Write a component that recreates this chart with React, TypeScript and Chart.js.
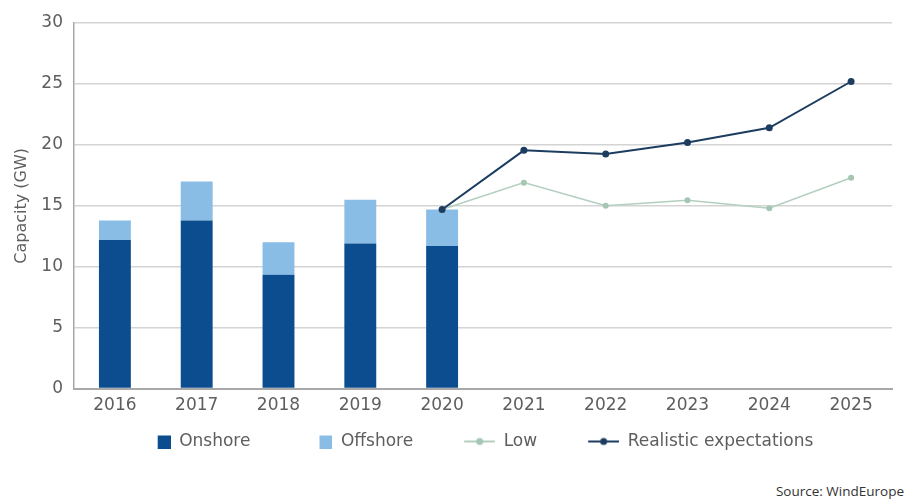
import React, { useEffect, useRef } from "react";
import { Chart, registerables } from "chart.js";

Chart.register(...registerables);

const categories = ["2016", "2017", "2018", "2019", "2020", "2021", "2022", "2023", "2024", "2025"];
const onshore = [12.2, 13.8, 9.35, 11.9, 11.7, null, null, null, null, null];
const offshore = [1.6, 3.2, 2.65, 3.6, 3.0, null, null, null, null, null];
const low = [null, null, null, null, 14.7, 16.9, 15.0, 15.45, 14.8, 17.3];
const realistic = [null, null, null, null, 14.7, 19.55, 19.25, 20.2, 21.4, 25.2];
const seriesNames = ["Onshore", "Offshore", "Low", "Realistic expectations"];

const C_ON = "#0b4d8e";
const C_OFF = "#8abde6";
const C_LOW = "#b3cfc0";
const C_LOW_PT = "#a5c6b3";
const C_REAL = "#1d3d60";
const FONT = "'DejaVu Sans', sans-serif";
const TXT = "#5e5e5e";
const ICON_W = 72;

function squareIcon(color: string) {
  const c = document.createElement("canvas");
  c.width = ICON_W;
  c.height = 14;
  const ctx = c.getContext("2d")!;
  ctx.fillStyle = color;
  ctx.fillRect(ICON_W - 13, 1, 13, 13);
  return c;
}

function lineIcon(color: string, dot: string) {
  const c = document.createElement("canvas");
  c.width = ICON_W;
  c.height = 10;
  const ctx = c.getContext("2d")!;
  ctx.strokeStyle = color;
  ctx.lineWidth = 2;
  ctx.beginPath();
  ctx.moveTo(ICON_W - 31, 5);
  ctx.lineTo(ICON_W, 5);
  ctx.stroke();
  ctx.fillStyle = dot;
  ctx.beginPath();
  ctx.arc(ICON_W - 15.5, 5, 3.5, 0, Math.PI * 2);
  ctx.fill();
  return c;
}

const legendTweak = {
  id: "legendTweak",
  afterInit(chart: any) {
    const lg = chart.legend;
    if (!lg) return;
    const orig = lg.fit;
    lg.fit = function () {
      orig.call(this);
      this.height = 37;
    };
  },
  afterLayout(chart: any) {
    const lg = chart.legend;
    if (!lg) return;
    lg.left += 10;
    lg.right += 10;
  },
};

export default function App() {
  const ref = useRef<HTMLCanvasElement | null>(null);

  useEffect(() => {
    if (!ref.current) return;
    const icons = [squareIcon(C_ON), squareIcon(C_OFF), lineIcon(C_LOW, C_LOW_PT), lineIcon(C_REAL, C_REAL)];
    const chart = new Chart(ref.current, {
      type: "bar",
      data: {
        labels: categories,
        datasets: [
          {
            type: "bar",
            label: seriesNames[0],
            data: onshore,
            backgroundColor: C_ON,
            stack: "bars",
            barPercentage: 0.39,
            categoryPercentage: 1,
            order: 2,
          },
          {
            type: "bar",
            label: seriesNames[1],
            data: offshore,
            backgroundColor: C_OFF,
            stack: "bars",
            barPercentage: 0.39,
            categoryPercentage: 1,
            order: 2,
          },
          {
            type: "line",
            label: seriesNames[2],
            data: low,
            borderColor: C_LOW,
            borderWidth: 1.5,
            pointRadius: 3,
            pointBackgroundColor: C_LOW_PT,
            pointBorderWidth: 0,
            stack: "low",
            order: 1,
          } as any,
          {
            type: "line",
            label: seriesNames[3],
            data: realistic,
            borderColor: C_REAL,
            borderWidth: 2,
            pointRadius: 3.5,
            pointBackgroundColor: C_REAL,
            pointBorderWidth: 0,
            stack: "real",
            order: 0,
          } as any,
        ],
      },
      plugins: [legendTweak],
      options: {
        animation: false,
        responsive: false,
        maintainAspectRatio: false,
        layout: { padding: { top: 23, left: 0, right: 18, bottom: 10 } },
        plugins: {
          tooltip: { enabled: false },
          legend: {
            position: "bottom",
            labels: {
              usePointStyle: true,
              pointStyleWidth: ICON_W,
              padding: 10,
              color: TXT,
              font: { family: FONT, size: 17 },
              generateLabels: () =>
                seriesNames.map((name, i) => ({
                  text: name,
                  pointStyle: icons[i] as any,
                  fillStyle: "transparent",
                  strokeStyle: "transparent",
                  lineWidth: 0,
                  hidden: false,
                  datasetIndex: i,
                  fontColor: TXT,
                })),
            },
          },
        },
        scales: {
          x: {
            stacked: true,
            grid: { display: false, drawTicks: false },
            border: { display: true, color: "#a8a8a8", width: 2 },
            ticks: { color: TXT, font: { family: FONT, size: 17 }, padding: 7, maxRotation: 0 },
          },
          y: {
            stacked: true,
            min: 0,
            max: 30,
            afterFit: (s: any) => {
              s.width = 74;
            },
            grid: { color: "#d4d4d4", lineWidth: 1.5, drawTicks: false },
            border: { display: true, color: "#a8a8a8", width: 1.5 },
            ticks: { stepSize: 5, color: TXT, font: { family: FONT, size: 17 }, padding: 11 },
            title: {
              display: true,
              text: "Capacity (GW)",
              color: TXT,
              font: { family: FONT, size: 16 },
              padding: { top: 12, bottom: 0 },
            },
          },
        },
      },
    });
    return () => chart.destroy();
  }, []);

  return (
    <div style={{ position: "fixed", left: 0, top: 0, width: 910, height: 504, background: "#fff" }}>
      <canvas ref={ref} width={910} height={470} style={{ display: "block" }} />
      <div
        style={{
          position: "absolute",
          right: 6,
          top: 482,
          fontFamily: "'Open Sans', sans-serif",
          fontSize: 13.5,
          color: "#333",
          whiteSpace: "nowrap",
        }}
      >
        Source: WindEurope
      </div>
    </div>
  );
}
